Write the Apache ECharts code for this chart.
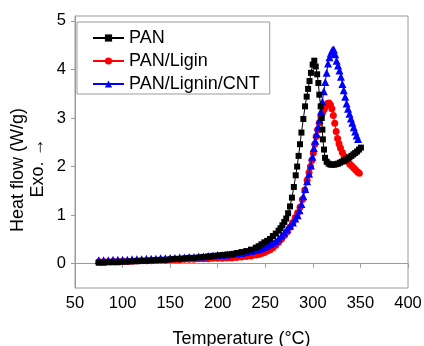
<!DOCTYPE html>
<html>
<head>
<meta charset="utf-8">
<script src="https://cdn.jsdelivr.net/npm/echarts@6/dist/echarts.min.js"></script>
<style>
  html, body { margin: 0; padding: 0; background: #fff; }
  #chart { width: 424px; height: 346px; }
</style>
</head>
<body>
<div id="chart"></div>
<script>
// DSC heat flow curves: [temperature (°C), heat flow (W/g)]
const seriesNames = ['PAN', 'PAN/Ligin', 'PAN/Lignin/CNT'];

const panData = [
  [75,0.02],[80,0.02],[85,0.03],[90,0.03],[95,0.03],[100,0.04],[105,0.04],[110,0.05],
  [115,0.05],[120,0.06],[125,0.06],[130,0.07],[135,0.07],[140,0.08],[145,0.08],[150,0.09],
  [155,0.10],[160,0.10],[165,0.11],[170,0.12],[175,0.12],[180,0.13],[185,0.14],[190,0.15],
  [195,0.16],[200,0.17],[205,0.18],[210,0.19],[215,0.20],[220,0.22],[225,0.24],[230,0.26],
  [235,0.29],[240,0.33],[243,0.36],[246,0.40],[249,0.44],[252,0.47],[255,0.51],[258,0.57],
  [261,0.62],[264,0.68],[266,0.73],[268,0.79],[270,0.86],[272,0.93],[274,1.04],[276,1.18],
  [278,1.36],[280,1.58],[282,1.82],[283.5,2.00],[285,2.22],[286.5,2.46],[288,2.70],[290,2.98],
  [291.8,3.24],[293.5,3.44],[295,3.60],[296.5,3.76],[298,3.93],[299.8,4.10],[301.5,4.18],
  [303,4.06],[304.5,3.90],[305.8,3.72],[306.8,3.48],[308.2,3.24],[309.3,3.00],[310,2.76],
  [310.5,2.56],[311.7,2.35],[312.8,2.18],[314.5,2.10],[316.5,2.06],[318.5,2.04],[320.5,2.04],
  [322.5,2.04],[324.5,2.05],[326.5,2.06],[328.5,2.08],[330.5,2.10],[332.5,2.12],[334.5,2.14],
  [336.5,2.17],[338.5,2.19],[340.5,2.22],[342.5,2.25],[344.5,2.28],[346.5,2.31],[348.5,2.35],
  [350.5,2.39]
];

const ligninData = [
  [75,0.04],[80,0.04],[85,0.04],[90,0.05],[95,0.05],[100,0.05],[105,0.05],[110,0.05],
  [115,0.06],[120,0.06],[125,0.06],[130,0.06],[135,0.07],[140,0.07],[145,0.07],[150,0.08],
  [155,0.08],[160,0.08],[165,0.09],[170,0.09],[175,0.09],[180,0.10],[185,0.10],[190,0.10],
  [195,0.11],[200,0.11],[205,0.11],[210,0.12],[215,0.12],[220,0.13],[225,0.14],[230,0.15],
  [235,0.16],[240,0.18],[243,0.19],[246,0.21],[249,0.23],[252,0.26],[255,0.29],[258,0.33],
  [261,0.38],[264,0.44],[267,0.51],[270,0.58],[273,0.66],[276,0.75],[279,0.85],[281.5,0.95],
  [284,1.05],[286.5,1.16],[289,1.32],[291.5,1.52],[294,1.72],[296,1.88],[297.5,2.00],
  [299,2.13],[300.5,2.28],[302,2.46],[303.5,2.62],[305,2.76],[306.8,2.90],[308.5,3.02],
  [310.2,3.11],[312,3.18],[313.8,3.25],[315.5,3.30],[317,3.31],[318.5,3.27],[320,3.19],
  [321.5,3.05],[323,2.89],[324.5,2.72],[326,2.58],[327.5,2.47],[329,2.38],[331,2.29],
  [333,2.21],[335,2.15],[337,2.10],[339,2.05],[341,2.01],[343,1.97],[345,1.93],[347,1.89],
  [348.8,1.86]
];

const cntData = [
  [75,0.07],[80,0.07],[85,0.07],[90,0.08],[95,0.08],[100,0.08],[105,0.08],[110,0.09],
  [115,0.09],[120,0.09],[125,0.10],[130,0.10],[135,0.10],[140,0.11],[145,0.11],[150,0.12],
  [155,0.12],[160,0.13],[165,0.13],[170,0.14],[175,0.14],[180,0.15],[185,0.15],[190,0.16],
  [195,0.17],[200,0.18],[205,0.18],[210,0.19],[215,0.20],[220,0.21],[225,0.22],[230,0.24],
  [235,0.26],[240,0.28],[243,0.30],[246,0.32],[249,0.35],[252,0.37],[255,0.40],[258,0.43],
  [261,0.47],[264,0.52],[267,0.58],[270,0.64],[273,0.71],[276,0.78],[279,0.85],[281.5,0.93],
  [284,1.00],[286,1.10],[288,1.23],[290,1.39],[292,1.54],[294,1.70],[296,1.85],[298,2.02],
  [299.5,2.20],[301,2.38],[302.5,2.53],[304,2.67],[305.5,2.82],[307,2.96],[308.5,3.14],
  [310,3.34],[311.5,3.55],[313,3.74],[314.5,3.93],[316,4.12],[317.5,4.25],[319,4.34],
  [320.5,4.40],[322,4.41],[323.5,4.31],[325,4.18],[326.5,4.08],[328,3.98],[329.5,3.85],
  [331,3.70],[332.5,3.57],[334,3.44],[335.5,3.30],[337,3.19],[338.5,3.09],[340,2.99],
  [341.5,2.90],[343,2.81],[344.5,2.72],[346,2.64],[347.5,2.57]
];

const xTicks = [50, 100, 150, 200, 250, 300, 350, 400];
const yTicks = [0, 1, 2, 3, 4, 5];

const FONT = '"Liberation Sans", Arial, sans-serif';
const AXIS_GREY = '#9a9a9a';

const chart = echarts.init(document.getElementById('chart'), null, { renderer: 'canvas' });

chart.setOption({
  animation: false,
  backgroundColor: '#fff',
  textStyle: { fontFamily: FONT },
  grid: {
    left: 75, right: 16, top: 16, bottom: 58,
    outerBoundsMode: 'none',
    containLabel: false,
    show: true, borderColor: AXIS_GREY, borderWidth: 1, backgroundColor: 'transparent'
  },
  legend: {
    orient: 'vertical',
    left: 77, top: 22,
    padding: [7, 10, 1, 15],
    itemGap: 5,
    itemWidth: 31,
    itemHeight: 9,
    borderColor: AXIS_GREY,
    borderWidth: 1,
    textStyle: { fontFamily: FONT, fontSize: 18, color: '#000' },
    data: seriesNames
  },
  xAxis: {
    type: 'value',
    min: xTicks[0], max: xTicks[xTicks.length - 1], interval: 50,
    name: 'Temperature (°C)',
    nameLocation: 'middle',
    nameGap: 42,
    nameTextStyle: { fontFamily: FONT, fontSize: 18, color: '#000' },
    axisLine: { lineStyle: { color: AXIS_GREY, width: 1 } },
    axisTick: { length: 4, lineStyle: { color: AXIS_GREY } },
    axisLabel: { margin: 7, fontFamily: FONT, fontSize: 16.5, color: '#000' },
    splitLine: { show: false }
  },
  yAxis: {
    type: 'value',
    min: -0.5, max: 5.1,
    axisLine: { show: true, lineStyle: { color: AXIS_GREY, width: 1 } },
    axisTick: { show: true, length: 4, customValues: yTicks, lineStyle: { color: AXIS_GREY } },
    axisLabel: { margin: 9, customValues: yTicks, fontFamily: FONT, fontSize: 16.5, color: '#000' },
    splitLine: { show: false }
  },
  graphic: [
    {
      type: 'text', x: 18, y: 170, rotation: Math.PI / 2,
      style: { text: 'Heat flow (W/g)', fontFamily: FONT, fontSize: 18, fill: '#000',
               align: 'center', verticalAlign: 'middle' }
    },
    {
      type: 'text', x: 38, y: 168, rotation: Math.PI / 2,
      style: { text: 'Exo. →', fontFamily: FONT, fontSize: 18, fill: '#000',
               align: 'center', verticalAlign: 'middle' }
    }
  ],
  series: [
    {
      name: seriesNames[0], type: 'line', data: panData, z: 4,
      symbol: 'rect', symbolSize: 6, showAllSymbol: true,
      lineStyle: { color: '#000', width: 1 },
      itemStyle: { color: '#000' }
    },
    {
      name: seriesNames[1], type: 'line', data: ligninData, z: 2,
      symbol: 'circle', symbolSize: 7, showAllSymbol: true,
      lineStyle: { color: '#ff0000', width: 1 },
      itemStyle: { color: '#ff0000' }
    },
    {
      name: seriesNames[2], type: 'line', data: cntData, z: 3,
      symbol: 'triangle', symbolSize: 8, showAllSymbol: true,
      lineStyle: { color: '#0000ff', width: 1 },
      itemStyle: { color: '#0000ff' }
    }
  ]
});
</script>
</body>
</html>
